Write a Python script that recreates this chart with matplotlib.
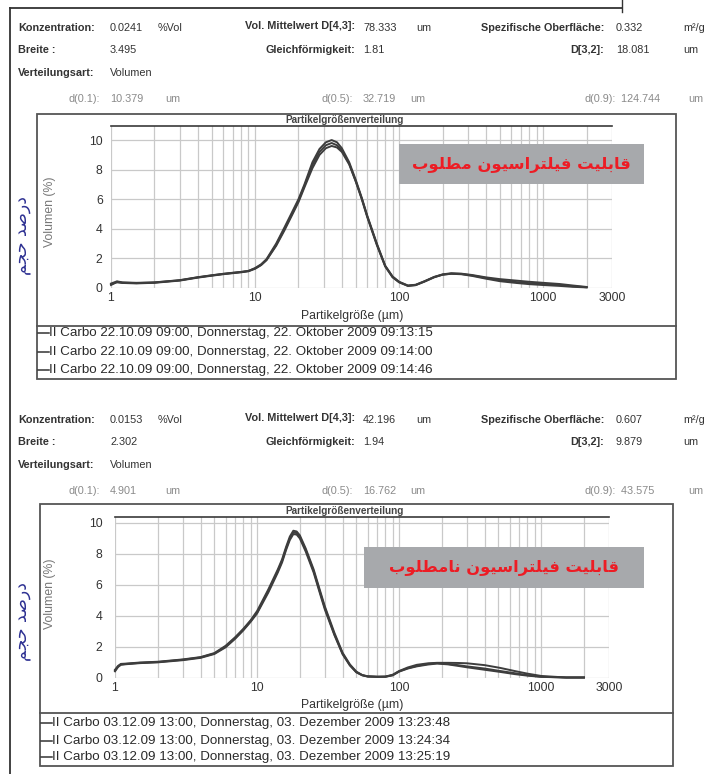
import matplotlib
matplotlib.use("Agg")
import matplotlib.pyplot as plt
from matplotlib import font_manager
from matplotlib.lines import Line2D
from matplotlib.patches import Rectangle
from matplotlib.ticker import FixedLocator, NullFormatter

W, H = 708, 774

# ---------------- data ----------------
tick_values = [1, 10, 100, 1000, 3000]
tick_labels = ["1", "10", "100", "1000", "3000"]
y_ticks = [0, 2, 4, 6, 8, 10]

# upper chart (good filtration)
top_x = [1, 1.1, 1.2, 1.5, 2, 3, 4, 5, 6, 7, 8, 9, 10, 11, 12, 14, 16, 18, 20, 22, 25, 28, 31, 34,
         37, 40, 45, 50, 55, 60, 70, 80, 90, 100, 115, 130, 150, 175, 200, 230, 270, 320, 400,
         500, 650, 800, 1000, 1300, 1600, 2000]
top_y1 = [0.2, 0.42, 0.36, 0.33, 0.37, 0.52, 0.72, 0.85, 0.95, 1.02, 1.08, 1.15, 1.35, 1.6, 1.95,
          3.0, 4.1, 5.1, 6.0, 7.0, 8.5, 9.4, 9.85, 10.0, 9.85, 9.45, 8.5, 7.3, 6.1, 4.9, 3.0, 1.5,
          0.75, 0.4, 0.15, 0.2, 0.45, 0.75, 0.92, 1.0, 0.97, 0.88, 0.72, 0.6, 0.5, 0.42, 0.35,
          0.27, 0.17, 0.07]
top_y2 = [0.25, 0.38, 0.34, 0.31, 0.35, 0.5, 0.7, 0.83, 0.93, 1.0, 1.06, 1.13, 1.3, 1.55, 1.9,
          2.9, 4.0, 5.0, 5.9, 6.9, 8.3, 9.2, 9.65, 9.8, 9.65, 9.3, 8.4, 7.2, 6.0, 4.8, 2.9, 1.45,
          0.72, 0.38, 0.14, 0.19, 0.43, 0.72, 0.9, 0.97, 0.95, 0.85, 0.68, 0.52, 0.4, 0.33, 0.27,
          0.2, 0.12, 0.05]
top_y3 = [0.3, 0.45, 0.38, 0.35, 0.38, 0.53, 0.73, 0.86, 0.96, 1.03, 1.09, 1.16, 1.32, 1.55, 1.88,
          2.85, 3.9, 4.9, 5.8, 6.8, 8.1, 9.0, 9.45, 9.6, 9.5, 9.2, 8.35, 7.2, 6.05, 4.85, 2.95, 1.5,
          0.78, 0.42, 0.17, 0.22, 0.46, 0.74, 0.9, 0.96, 0.93, 0.82, 0.63, 0.46, 0.34, 0.26, 0.2,
          0.14, 0.08, 0.04]

# lower chart (poor filtration)
bot_x = [1, 1.05, 1.1, 1.2, 1.5, 2, 3, 4, 5, 6, 7, 8, 9, 10, 12, 14, 15, 16, 17, 18, 19,
         20, 22, 25, 28, 30, 35, 40, 45, 50, 55, 60, 70, 80, 90, 100, 115, 133, 160, 185, 220,
         260, 300, 400, 515, 650, 800, 1000, 1500, 2000]
bot_y1 = [0.45, 0.7, 0.85, 0.88, 0.95, 1.0, 1.15, 1.3, 1.55, 2.0, 2.55, 3.1, 3.65, 4.2, 5.6,
          6.9, 7.55, 8.35, 9.0, 9.38, 9.35, 9.1, 8.25, 6.9, 5.4, 4.5, 2.8, 1.55, 0.8, 0.35, 0.15,
          0.07, 0.05, 0.05, 0.15, 0.4, 0.6, 0.75, 0.88, 0.93, 0.88, 0.8, 0.72, 0.58, 0.42, 0.28,
          0.15, 0.05, 0.0, 0.0]
bot_y2 = [0.5, 0.75, 0.88, 0.9, 0.97, 1.02, 1.17, 1.32, 1.58, 2.05, 2.6, 3.15, 3.7, 4.3, 5.7,
          7.0, 7.65, 8.45, 9.12, 9.5, 9.45, 9.2, 8.35, 7.0, 5.5, 4.6, 2.9, 1.6, 0.85, 0.38, 0.16,
          0.08, 0.05, 0.06, 0.18, 0.42, 0.65, 0.82, 0.92, 0.95, 0.95, 0.94, 0.92, 0.8, 0.62, 0.42,
          0.25, 0.1, 0.0, 0.0]
bot_y3 = [0.4, 0.68, 0.82, 0.86, 0.93, 0.98, 1.12, 1.27, 1.52, 1.95, 2.5, 3.05, 3.6, 4.15, 5.5,
          6.8, 7.45, 8.25, 8.9, 9.28, 9.25, 9.0, 8.15, 6.8, 5.3, 4.4, 2.75, 1.5, 0.78, 0.33, 0.14,
          0.06, 0.04, 0.05, 0.14, 0.38, 0.58, 0.72, 0.84, 0.9, 0.85, 0.75, 0.66, 0.5, 0.36, 0.22,
          0.12, 0.04, 0.0, 0.0]

top_header_labels = ["Konzentration:", "Breite :", "Verteilungsart:"]
top_header_values = ["0.0241", "3.495", "Volumen"]
top_mid_labels = ["Vol. Mittelwert D[4,3]:", "Gleichförmigkeit:"]
top_mid_values = ["78.333", "1.81"]
top_right_labels = ["Spezifische Oberfläche:", "D[3,2]:"]
top_right_values = ["0.332", "18.081"]
top_d_values = ["10.379", "32.719", "124.744"]
top_legend = ["II Carbo 22.10.09 09:00, Donnerstag, 22. Oktober 2009 09:13:15",
              "II Carbo 22.10.09 09:00, Donnerstag, 22. Oktober 2009 09:14:00",
              "II Carbo 22.10.09 09:00, Donnerstag, 22. Oktober 2009 09:14:46"]

bot_header_labels = ["Konzentration:", "Breite :", "Verteilungsart:"]
bot_header_values = ["0.0153", "2.302", "Volumen"]
bot_mid_labels = ["Vol. Mittelwert D[4,3]:", "Gleichförmigkeit:"]
bot_mid_values = ["42.196", "1.94"]
bot_right_labels = ["Spezifische Oberfläche:", "D[3,2]:"]
bot_right_values = ["0.607", "9.879"]
bot_d_values = ["4.901", "16.762", "43.575"]
bot_legend = ["II Carbo 03.12.09 13:00, Donnerstag, 03. Dezember 2009 13:23:48",
              "II Carbo 03.12.09 13:00, Donnerstag, 03. Dezember 2009 13:24:34",
              "II Carbo 03.12.09 13:00, Donnerstag, 03. Dezember 2009 13:25:19"]

top_box_text = "قابلیت فیلتراسیون مطلوب"
bot_box_text = "قابلیت فیلتراسیون نامطلوب"
side_label = "درصد حجم"

# ---------------- simple Persian shaping for matplotlib (LTR renderer) -------------
FORMS = {
    "\u0627": ("\uFE8D", "\uFE8E", None, None),
    "\u0628": ("\uFE8F", "\uFE90", "\uFE91", "\uFE92"),
    "\u062A": ("\uFE95", "\uFE96", "\uFE97", "\uFE98"),
    "\u062C": ("\uFE9D", "\uFE9E", "\uFE9F", "\uFEA0"),
    "\u062D": ("\uFEA1", "\uFEA2", "\uFEA3", "\uFEA4"),
    "\u062F": ("\uFEA9", "\uFEAA", None, None),
    "\u0631": ("\uFEAD", "\uFEAE", None, None),
    "\u0633": ("\uFEB1", "\uFEB2", "\uFEB3", "\uFEB4"),
    "\u0635": ("\uFEB9", "\uFEBA", "\uFEBB", "\uFEBC"),
    "\u0637": ("\uFEC1", "\uFEC2", "\uFEC3", "\uFEC4"),
    "\u0641": ("\uFED1", "\uFED2", "\uFED3", "\uFED4"),
    "\u0642": ("\uFED5", "\uFED6", "\uFED7", "\uFED8"),
    "\u0644": ("\uFEDD", "\uFEDE", "\uFEDF", "\uFEE0"),
    "\u0645": ("\uFEE1", "\uFEE2", "\uFEE3", "\uFEE4"),
    "\u0646": ("\uFEE5", "\uFEE6", "\uFEE7", "\uFEE8"),
    "\u0648": ("\uFEED", "\uFEEE", None, None),
    "\u06CC": ("\uFBFC", "\uFBFD", "\uFEF3", "\uFEF4"),
}


def shape(s):
    out = []
    for i, ch in enumerate(s):
        if ch not in FORMS:
            out.append(ch)
            continue
        prev = s[i - 1] if i > 0 else None
        nxt = s[i + 1] if i + 1 < len(s) else None
        jp = prev in FORMS and FORMS[prev][2] is not None
        jn = nxt in FORMS and FORMS[ch][2] is not None
        iso, fin, ini, med = FORMS[ch]
        if jp and jn:
            out.append(med)
        elif jp:
            out.append(fin)
        elif jn:
            out.append(ini)
        else:
            out.append(iso)
    return "".join(reversed(out))


# ---------------- fonts ----------------
names = {f.name for f in font_manager.fontManager.ttflist}
NARROW = "Liberation Sans Narrow" if "Liberation Sans Narrow" in names else "Liberation Sans"
SANS = "Liberation Sans"

fig = plt.figure(figsize=(W / 100, H / 100), dpi=100)
fig.patch.set_facecolor("white")


def fx(x):
    return x / W


def fy(y):
    return 1 - y / H


def hline(x0, x1, y, color="#444444", lw=1.2):
    fig.add_artist(Line2D([fx(x0), fx(x1)], [fy(y), fy(y)], color=color, lw=lw,
                          transform=fig.transFigure))


def vline(x, y0, y1, color="#444444", lw=1.2):
    fig.add_artist(Line2D([fx(x), fx(x)], [fy(y0), fy(y1)], color=color, lw=lw,
                          transform=fig.transFigure))


def txt(x, y, s, ha="left", color="#222222", size=7.5, weight="normal", family=None, **kw):
    fig.text(fx(x), fy(y), s, ha=ha, va="center", color=color, fontsize=size,
             fontweight=weight, family=family or NARROW, **kw)


# page frame
vline(10, 8, 774, color="#333333", lw=1.3)
hline(10, 622, 8, color="#333333", lw=1.3)
vline(622, 0, 12, color="#333333", lw=1.0)


def header(y0, hl, hv, unit1, ml, mv, rl, rv, runits, dv):
    rows = [y0, y0 + 22, y0 + 45]
    for i, (l, v) in enumerate(zip(hl, hv)):
        txt(18, rows[i], l, weight="bold", color="#333333", size=7.8)
        txt(110, rows[i], v, color="#333333", size=7.8)
    txt(158, rows[0], unit1, color="#333333", size=7.8)
    for i, (l, v) in enumerate(zip(ml, mv)):
        txt(355, rows[i] - (2 if i == 0 else 0), l, ha="right", weight="bold", color="#333333", size=7.8)
        txt(363, rows[i], v, color="#333333", size=7.8)
    txt(416, rows[0], "um", color="#333333", size=7.8)
    for i, (l, v) in enumerate(zip(rl, rv)):
        txt(604, rows[i], l, ha="right", weight="bold", color="#333333", size=7.8)
        txt(616, rows[i], v, color="#333333", size=7.8)
        txt(683, rows[i], runits[i], color="#333333", size=7.8)
    yd = y0 + 71
    gray = "#8a8a8a"
    txt(100, yd, "d(0.1):", ha="right", color=gray, size=7.8)
    txt(110, yd, dv[0], color=gray, size=7.8)
    txt(165, yd, "um", color=gray, size=7.8)
    txt(353, yd, "d(0.5):", ha="right", color=gray, size=7.8)
    txt(363, yd, dv[1], color=gray, size=7.8)
    txt(410, yd, "um", color=gray, size=7.8)
    txt(616, yd, "d(0.9):", ha="right", color=gray, size=7.8)
    txt(618, yd, " " + dv[2], color=gray, size=7.8)
    txt(688, yd, "um", color=gray, size=7.8)


def chart(ax_px, ymax, xs, ys, box, legend_top, legend_rows, legend, ylab_y, xlab_y, ypad,
          title_y, gray_box, box_text, side_y, box_fs):
    x0, x1, ytop, ybot = ax_px
    ax = fig.add_axes([fx(x0), fy(ybot), fx(x1) - fx(x0), (ybot - ytop) / H])
    ax.set_xscale("log")
    ax.set_xlim(1, 3000)
    ax.set_ylim(0, ymax)
    minor = [m * d for d in (1, 10, 100) for m in range(2, 10)] + [2000]
    ax.xaxis.set_major_locator(FixedLocator(tick_values))
    ax.xaxis.set_minor_locator(FixedLocator(minor))
    ax.xaxis.set_minor_formatter(NullFormatter())
    ax.set_xticklabels(tick_labels)
    ax.set_yticks(y_ticks)
    ax.tick_params(which="both", length=0, labelsize=8.8, colors="#333333")
    ax.tick_params(axis="y", pad=ypad)
    ax.tick_params(axis="x", pad=3)
    for t in ax.get_xticklabels() + ax.get_yticklabels():
        t.set_family(SANS)
    ax.grid(True, which="both", color="#c9c9c9", lw=0.9)
    for s in ("left", "right", "bottom"):
        ax.spines[s].set_visible(False)
    ax.spines["top"].set_color("#3a3a3a")
    ax.spines["top"].set_linewidth(1.2)
    for y in ys:
        ax.plot(xs, y, color="#3d3d3d", lw=1.4, clip_on=False, zorder=3)
    # gray label box
    gx0, gy0, gx1, gy1 = gray_box
    fig.add_artist(Rectangle((fx(gx0), fy(gy1)), fx(gx1) - fx(gx0), (gy1 - gy0) / H,
                             transform=fig.transFigure, facecolor="#a7a9ac", edgecolor="none", zorder=4))
    fig.text(fx((gx0 + gx1) / 2), fy((gy0 + gy1) / 2 + 1), shape(box_text), ha="center", va="center",
             color="#ed1c24", fontsize=box_fs, fontweight="bold", family=["DejaVu Sans"], zorder=5)
    # title
    fig.text(fx(345), fy(title_y), "Partikelgrößenverteilung", ha="center", va="bottom",
             fontsize=7.2, fontweight="bold", color="#444444", family=SANS)
    # axis labels
    fig.text(fx(50), fy(ylab_y), "Volumen (%)", rotation=90, ha="center", va="center",
             fontsize=8.8, color="#777777", family=SANS)
    fig.text(fx(352), fy(xlab_y), "Partikelgröße (µm)", ha="center", va="center",
             fontsize=8.8, color="#333333", family=SANS)
    # side persian label
    fig.text(fx(23), fy(side_y), shape(side_label), rotation=90, ha="center", va="center",
             fontsize=12.5, color="#2e3192", family=["DejaVu Sans"])
    # boxes
    bx0, by0, bx1, by1 = box
    fig.add_artist(Rectangle((fx(bx0), fy(by1)), fx(bx1) - fx(bx0), (by1 - by0) / H,
                             transform=fig.transFigure, facecolor="none", edgecolor="#555555", lw=1.3))
    hline(bx0, bx1, legend_top, color="#555555", lw=1.3)
    for yy, s in zip(legend_rows, legend):
        hline(bx0 + 1, bx0 + 12, yy, color="#333333", lw=1.1)
        txt(bx0 + 12, yy, s, color="#2a2a2a", size=9.6)
    return ax


header(28, top_header_labels, top_header_values, "%Vol", top_mid_labels, top_mid_values,
       top_right_labels, top_right_values, ["m²/g", "um"], top_d_values)
chart((111, 612, 126, 288), 10.95, top_x, [top_y1, top_y2, top_y3], (37, 114, 676, 379), 326,
      [333, 352, 370], top_legend, 212, 316, 6, 125, (399, 144, 644, 184), top_box_text, 236, 11.8)

header(420, bot_header_labels, bot_header_values, "%Vol", bot_mid_labels, bot_mid_values,
       bot_right_labels, bot_right_values, ["m²/g", "um"], bot_d_values)
chart((115, 609, 516.5, 677.5), 10.42, bot_x, [bot_y1, bot_y2, bot_y3], (40, 504, 673, 766), 713,
      [723, 741, 757], bot_legend, 594, 705, 9, 515.5, (364, 547, 644, 588), bot_box_text, 622, 11.7)

fig.savefig("out.png", dpi=100, facecolor="white")
